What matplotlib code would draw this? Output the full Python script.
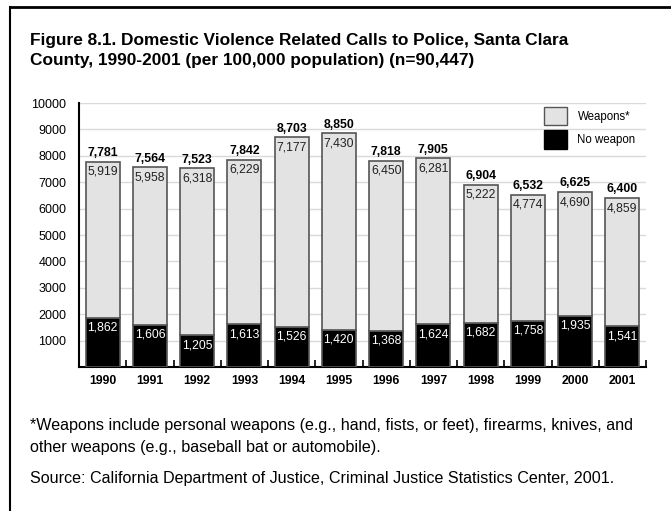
import matplotlib.pyplot as plt
from matplotlib.lines import Line2D
from matplotlib.patches import Patch
import numpy as np

years = ['1990', '1991', '1992', '1993', '1994', '1995',
         '1996', '1997', '1998', '1999', '2000', '2001']
no_weapon = [1862, 1606, 1205, 1613, 1526, 1420, 1368, 1624, 1682, 1758, 1935, 1541]
weapons = [5919, 5958, 6318, 6229, 7177, 7430, 6450, 6281, 5222, 4774, 4690, 4859]
totals = [7781, 7564, 7523, 7842, 8703, 8850, 7818, 7905, 6904, 6532, 6625, 6400]

FONT = ['Liberation Sans', 'DejaVu Sans']
LIGHT = '#e3e3e3'
EDGE = '#555555'

fig = plt.figure(figsize=(6.71, 5.11), dpi=100)

# frame lines (left and top only)
fig.add_artist(Line2D([9.5 / 671, 9.5 / 671], [0, 1 - 7.5 / 511], color='black', lw=1.5))
fig.add_artist(Line2D([9.5 / 671, 1], [1 - 7.5 / 511, 1 - 7.5 / 511], color='black', lw=2))

fig.text(30 / 671, 1 - 40 / 511,
         'Figure 8.1. Domestic Violence Related Calls to Police, Santa Clara',
         fontsize=12.4, fontweight='bold', family=FONT, va='center', ha='left')
fig.text(30 / 671, 1 - 61 / 511,
         'County, 1990-2001 (per 100,000 population) (n=90,447)',
         fontsize=12.4, fontweight='bold', family=FONT, va='center', ha='left')

ax = fig.add_axes([79 / 671, 1 - 367 / 511, 567 / 671, 264 / 511])
x = np.arange(len(years))
w = 0.72
ax.bar(x, no_weapon, w, color='black', edgecolor=EDGE, linewidth=1.2, zorder=3)
ax.bar(x, weapons, w, bottom=no_weapon, color=LIGHT, edgecolor=EDGE, linewidth=1.2, zorder=3)

for i in range(len(years)):
    ax.text(x[i], totals[i] + 100, f'{totals[i]:,}', ha='center', va='bottom',
            fontsize=8.8, fontweight='bold', family=FONT, zorder=4)
    ax.text(x[i], totals[i] - 150, f'{weapons[i]:,}', ha='center', va='top',
            fontsize=8.8, family=FONT, color='#222222', zorder=4)
    ax.text(x[i], no_weapon[i] - 150, f'{no_weapon[i]:,}', ha='center', va='top',
            fontsize=8.8, family=FONT, color='white', zorder=4)

ax.set_xlim(-0.5, len(years) - 0.5)
ax.set_ylim(0, 10000)
ax.set_yticks(range(1000, 10001, 1000))
ax.yaxis.grid(True, color='#d9d9d9', lw=1, zorder=0)
ax.tick_params(axis='y', length=0, pad=9, labelsize=9)
for lab in ax.get_yticklabels():
    lab.set_family(FONT)

ax.set_xticks(x)
ax.set_xticklabels(years, fontsize=8.8, fontweight='bold', family=FONT)
ax.tick_params(axis='x', length=0, pad=6)
# small boundary ticks on the x axis
ax.set_xticks(np.arange(0.5, len(years), 1), minor=True)
ax.tick_params(axis='x', which='minor', direction='in', length=5, width=1.2, color='black')

for s in ['top', 'right']:
    ax.spines[s].set_visible(False)
ax.spines['left'].set_linewidth(1.5)
ax.spines['bottom'].set_linewidth(1.5)

handles = [Patch(facecolor=LIGHT, edgecolor=EDGE, lw=1),
           Patch(facecolor='black', edgecolor='black')]
leg = ax.legend(handles, ['Weapons*', 'No weapon'], loc='upper right',
                bbox_to_anchor=(1.0, 1.025), frameon=False, handlelength=2.0,
                handleheight=2.1, labelspacing=0.4, handletextpad=0.9,
                prop={'family': FONT, 'size': 8.3})

fig.text(30 / 671, 1 - 425 / 511,
         '*Weapons include personal weapons (e.g., hand, fists, or feet), firearms, knives, and',
         fontsize=11.6, family=FONT, va='center', ha='left')
fig.text(30 / 671, 1 - 447 / 511,
         'other weapons (e.g., baseball bat or automobile).',
         fontsize=11.6, family=FONT, va='center', ha='left')
fig.text(30 / 671, 1 - 478 / 511,
         'Source: California Department of Justice, Criminal Justice Statistics Center, 2001.',
         fontsize=11.6, family=FONT, va='center', ha='left')

fig.savefig('out.png', dpi=100)
